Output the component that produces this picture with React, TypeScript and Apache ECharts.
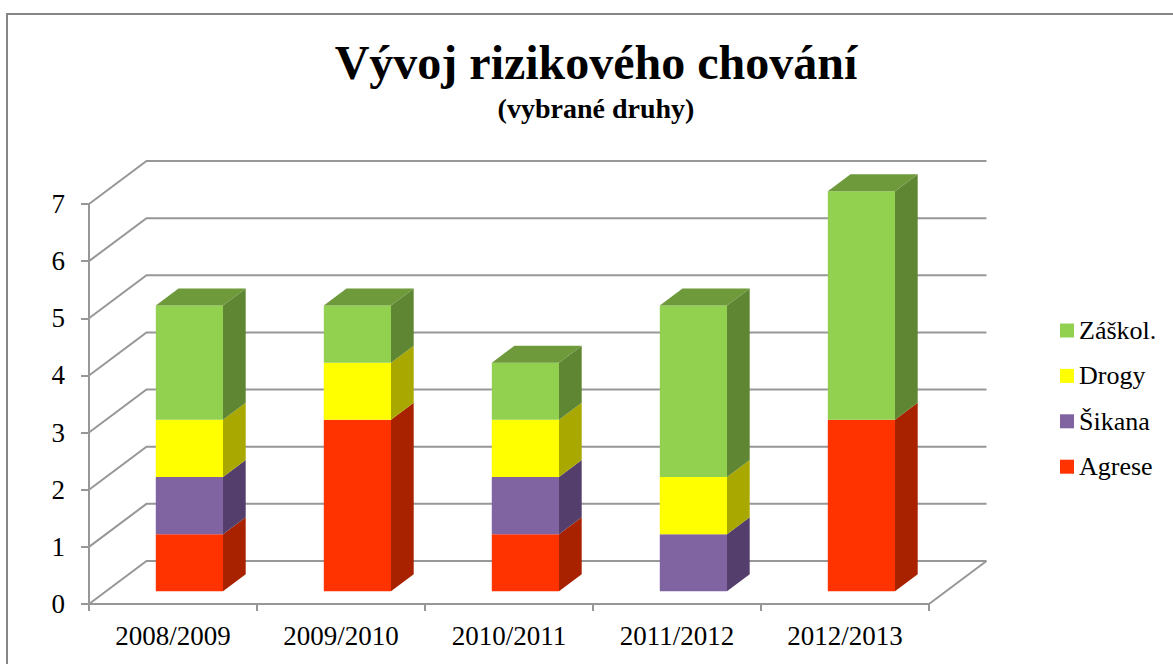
import React, { useEffect, useRef } from "react";
import * as echarts from "echarts";

const categories = ["2008/2009", "2009/2010", "2010/2011", "2011/2012", "2012/2013"];
const agrese = [1, 3, 1, 0, 3];
const sikana = [1, 0, 1, 1, 0];
const drogy = [1, 1, 1, 1, 0];
const zaskol = [2, 1, 1, 3, 4];
const yTicks = [0, 1, 2, 3, 4, 5, 6, 7];
const seriesNames = ["Agrese", "Šikana", "Drogy", "Záškol."];
const seriesValues = [agrese, sikana, drogy, zaskol];
const frontColors = ["#FF3300", "#8064A2", "#FFFF00", "#92D050"];
const sideColors = ["#A82200", "#543F6C", "#A8A800", "#5F8733"];
const topColors = ["#C42A00", "#66507F", "#CCCC00", "#6E9A3C"];
const legendOrder = ["Záškol.", "Drogy", "Šikana", "Agrese"];

const FONT = '"Liberation Serif", "Times New Roman", serif';
const WALL_DX = 57.5;
const WALL_DY = 43;
const BAR_OFF_X = 16.4;
const BAR_OFF_Y = 12.7;
const BAR_W = 67.2;
const BAR_DX = 22.7;
const BAR_DY = 17;
const GRID_COLOR = "#979797";

export default function App() {
  const ref = useRef<HTMLDivElement>(null);
  useEffect(() => {
    if (!ref.current) return;
    const chart = echarts.init(ref.current, undefined, { renderer: "svg" });

    const wallSeries = {
      type: "custom",
      silent: true,
      z: 1,
      data: yTicks.map((v) => [v]),
      renderItem: (_p: any, api: any) => {
        const v = api.value(0);
        const a = api.coord([0, v]);
        const size = api.size([1, 0]);
        const left = a[0] - size[0] / 2;
        const right = left + size[0] * categories.length;
        const children: any[] = [
          {
            type: "polyline",
            shape: {
              points: [
                [left, a[1]],
                [left + WALL_DX, a[1] - WALL_DY],
                [right + WALL_DX, a[1] - WALL_DY],
              ],
            },
            style: { stroke: GRID_COLOR, lineWidth: 2, fill: "none" },
          },
        ];
        if (v === 0) {
          children.push({
            type: "line",
            shape: { x1: right, y1: a[1], x2: right + WALL_DX, y2: a[1] - WALL_DY },
            style: { stroke: GRID_COLOR, lineWidth: 2 },
          });
        }
        return { type: "group", children };
      },
    };

    const barSeries = seriesNames.map((name, si) => {
      const rows = categories.map((_, ci) => {
        let start = 0;
        for (let k = 0; k < si; k++) start += seriesValues[k][ci];
        const end = start + seriesValues[si][ci];
        let above = 0;
        for (let k = si + 1; k < seriesValues.length; k++) above += seriesValues[k][ci];
        return [ci, start, end, above];
      });
      return {
        type: "custom",
        name,
        z: 3,
        itemStyle: { color: frontColors[si] },
        encode: { x: 0, y: [1, 2] },
        data: rows,
        renderItem: (_p: any, api: any) => {
          const ci = api.value(0);
          const start = api.value(1);
          const end = api.value(2);
          const above = api.value(3);
          if (end <= start) return { type: "group", children: [] };
          const p0 = api.coord([ci, start]);
          const p1 = api.coord([ci, end]);
          const x0 = p0[0] + BAR_OFF_X - BAR_W / 2;
          const x1 = x0 + BAR_W;
          const yb = p0[1] - BAR_OFF_Y;
          const yt = p1[1] - BAR_OFF_Y;
          const children: any[] = [
            {
              type: "polygon",
              shape: {
                points: [
                  [x1, yb],
                  [x1 + BAR_DX, yb - BAR_DY],
                  [x1 + BAR_DX, yt - BAR_DY],
                  [x1, yt],
                ],
              },
              style: { fill: sideColors[si] },
            },
            { type: "rect", shape: { x: x0, y: yt, width: BAR_W, height: yb - yt }, style: { fill: frontColors[si] } },
          ];
          if (above === 0) {
            children.push({
              type: "polygon",
              shape: {
                points: [
                  [x0, yt],
                  [x1, yt],
                  [x1 + BAR_DX, yt - BAR_DY],
                  [x0 + BAR_DX, yt - BAR_DY],
                ],
              },
              style: { fill: topColors[si] },
            });
          }
          return { type: "group", children };
        },
      };
    });

    chart.setOption({
      animation: false,
      backgroundColor: "#ffffff",
      title: [
        {
          text: "Vývoj rizikového chování",
          left: 596,
          top: 38,
          padding: 0,
          textAlign: "center",
          textStyle: { fontFamily: FONT, fontSize: 48, fontWeight: "bold", color: "#000" },
        },
        {
          text: "(vybrané druhy)",
          left: 596,
          top: 94,
          padding: 0,
          textAlign: "center",
          textStyle: { fontFamily: FONT, fontSize: 28, fontWeight: "bold", color: "#000" },
        },
      ],
      legend: {
        orient: "vertical",
        left: 1060,
        top: 317.5,
        padding: 0,
        itemWidth: 14,
        itemHeight: 14,
        itemGap: 19.4,
        icon: "rect",
        data: legendOrder,
        selectedMode: false,
        textStyle: { fontFamily: FONT, fontSize: 26, color: "#000" },
      },
      grid: { left: 89, right: 244, top: 204, bottom: 60, containLabel: false },
      xAxis: {
        type: "category",
        data: categories,
        boundaryGap: true,
        axisLine: { lineStyle: { color: GRID_COLOR, width: 2 } },
        axisTick: { show: true, length: 7, alignWithLabel: false, lineStyle: { color: GRID_COLOR, width: 2 } },
        axisLabel: { fontFamily: FONT, fontSize: 27, color: "#000", margin: 18, interval: 0 },
        splitLine: { show: false },
      },
      yAxis: {
        type: "value",
        min: 0,
        max: 7,
        interval: 1,
        axisLine: { show: true, lineStyle: { color: GRID_COLOR, width: 2 } },
        axisTick: { show: true, length: 8, lineStyle: { color: GRID_COLOR, width: 2 } },
        axisLabel: { fontFamily: FONT, fontSize: 27, color: "#000", margin: 24 },
        splitLine: { show: false },
      },
      graphic: [
        {
          type: "polyline",
          shape: { points: [[7, 664], [7, 14], [1173, 14]] },
          style: { stroke: "#868686", lineWidth: 2, fill: "none" },
          silent: true,
        },
      ],
      series: [wallSeries, ...barSeries],
    });
    return () => chart.dispose();
  }, []);
  return <div ref={ref} style={{ position: "absolute", left: 0, top: 0, width: 1173, height: 664 }} />;
}
